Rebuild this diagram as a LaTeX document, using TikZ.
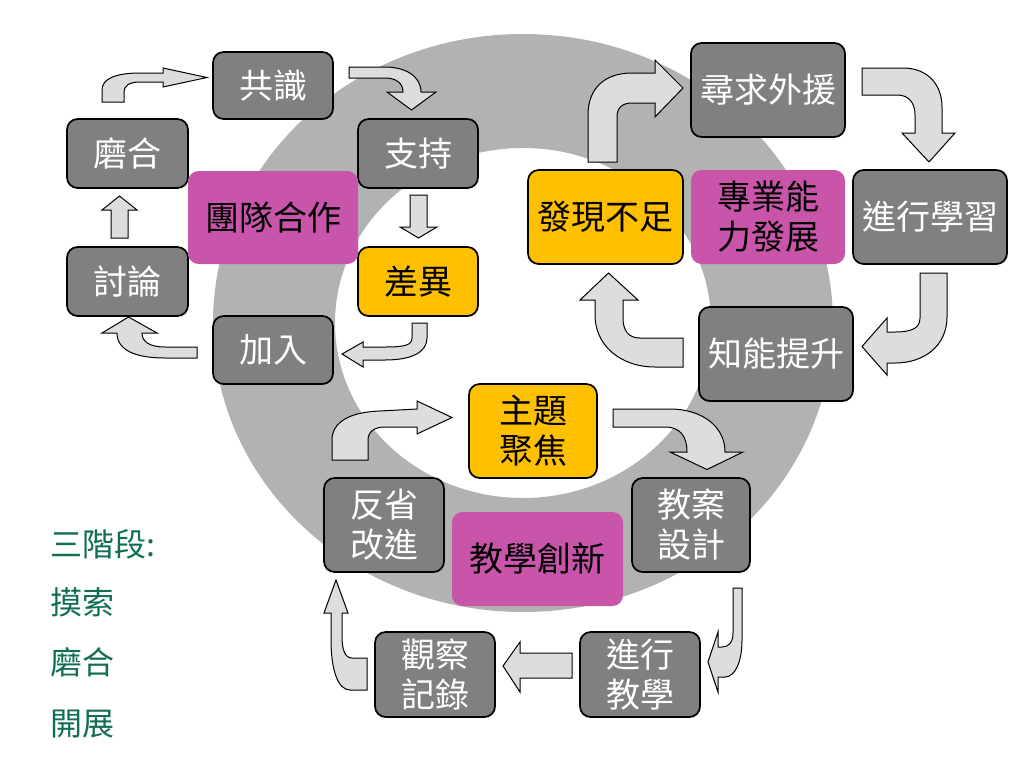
\documentclass[tikz,border=0pt]{standalone}
\usepackage{fontspec}
\newfontfamily\cjk{Noto Sans CJK TC}
\definecolor{boxgray}{RGB}{128,128,128}
\definecolor{ringgray}{RGB}{178,178,178}
\definecolor{arrowgray}{RGB}{221,221,221}
\definecolor{boxorange}{RGB}{255,192,0}
\definecolor{boxmagenta}{RGB}{200,85,170}
\definecolor{stagegreen}{RGB}{16,110,85}

\tikzset{every picture/.style={line width=0.75pt}}
\tikzset{
  sz/.style 2 args={minimum width=#1*0.75pt, minimum height=#2*0.75pt},
  card/.style={rounded corners=8pt, inner sep=0pt, align=center,
    font=\cjk\fontsize{25.5}{30}\selectfont},
  graybox/.style={card, draw=black, line width=1.3pt, fill=boxgray, text=white},
  orangebox/.style={card, draw=black, line width=1.3pt, fill=boxorange, text=black},
  themebox/.style={card, fill=boxmagenta, text=black},
  blockarrow/.style={draw=black, line width=0.75pt, fill=arrowgray, line join=miter},
  stage/.style={anchor=west, inner sep=0pt, text=stagegreen,
    font=\cjk\fontsize{24}{28}\selectfont}
}

\begin{document}
\begin{tikzpicture}[x=0.75pt,y=0.75pt,yscale=-1,xscale=1]
\useasboundingbox (0,0) rectangle (1024,768);

%Shape: Ring
\fill [ringgray, even odd rule] (523,323) ellipse [x radius=310, y radius=289]
  (523,323) ellipse [x radius=188, y radius=175];

%Block Arrows: team cycle
\draw [blockarrow] (102,102) -- (102,90) .. controls (102,79) and (115,73) .. (140,73) -- (163,73) -- (163,68) -- (207,77.5) -- (163,87) -- (163,82) -- (140,82) .. controls (129,82) and (124,86) .. (124,92) -- (124,102) -- cycle;
\draw [blockarrow] (349,67) -- (385,67) .. controls (405,67) and (421,76) .. (421,92) -- (436,92) -- (411.5,110) -- (387,92) -- (403,92) .. controls (403,83) and (396,78) .. (385,78) -- (349,78) -- cycle;
\draw [blockarrow] (410,195) -- (427,195) -- (427,227) -- (437,227) -- (418.5,238) -- (400,227) -- (410,227) -- cycle;
\draw [blockarrow] (412,323) -- (427,323) -- (427,338) .. controls (427,352) and (412,360) .. (385,360) -- (363,360) -- (363,367) -- (342,354) -- (363,342) -- (363,347) -- (385,347) .. controls (405,347) and (412,345) .. (412,338) -- cycle;
\draw [blockarrow] (197,347) -- (165,347) .. controls (150,347) and (142,342) .. (142,333) -- (157,333) -- (128.5,317) -- (102,333) -- (117,333) .. controls (117,350) and (135,358) .. (165,358) -- (197,358) -- cycle;
\draw [blockarrow] (111,238) -- (128,238) -- (128,210) -- (137,210) -- (119.5,196) -- (102,210) -- (111,210) -- cycle;

%Block Arrows: professional cycle
\draw [blockarrow] (588,162) -- (588,115) .. controls (588,88) and (605,73) .. (632,73) -- (655,73) -- (655,60) -- (683,88) -- (655,117) -- (655,103) -- (632,103) .. controls (622,103) and (617,108) .. (617,117) -- (617,162) -- cycle;
\draw [blockarrow] (862,68) -- (903,68) .. controls (928,68) and (942,85) .. (942,107) -- (942,133) -- (955,133) -- (929,162) -- (902,133) -- (915,133) -- (915,115) .. controls (915,103) and (909,95) .. (897,95) -- (862,95) -- cycle;
\draw [blockarrow] (920,273) -- (947,273) -- (947,317) .. controls (947,345) and (925,363) .. (895,363) -- (887,363) -- (887,375) -- (862,346.5) -- (887,318) -- (887,332) -- (895,332) .. controls (912,332) and (920,328) .. (920,318) -- cycle;
\draw [blockarrow] (683,338) -- (640,338) .. controls (628,338) and (623,330) .. (623,318) -- (623,300) -- (638,300) -- (608.5,273) -- (580,300) -- (595,300) -- (595,315) .. controls (595,345) and (620,367) .. (655,367) -- (683,367) -- cycle;

%Block Arrows: teaching cycle
\draw [blockarrow] (332,460) -- (332,440) .. controls (332,422) and (350,412) .. (380,411) -- (417,409) -- (417,401) -- (452,417.5) -- (417,434) -- (417,427) -- (385,427) .. controls (374,427) and (368,432) .. (368,440) -- (368,460) -- cycle;
\draw [blockarrow] (613,409) -- (670,409) .. controls (700,409) and (725,425) .. (725,452) -- (743,452) -- (707,469.5) -- (670,452) -- (687,452) .. controls (687,436) and (680,427) .. (665,427) -- (613,427) -- cycle;
\draw [blockarrow] (733,588) -- (742,588) -- (742,640) .. controls (742,662) and (735,677) .. (725,677) -- (718,677) -- (718,692) -- (708,662) -- (718,632) -- (718,647) -- (722,647) .. controls (729,647) and (733,642) .. (733,633) -- cycle;
\draw [blockarrow] (572,653) -- (520,653) -- (520,642) -- (503,666) -- (520,692) -- (520,678) -- (572,678) -- cycle;
\draw [blockarrow] (367,658) -- (352,658) .. controls (345,658) and (342,650) .. (342,636) -- (342,613) -- (348,613) -- (336,580) -- (324,613) -- (331,613) -- (331,640) .. controls (331,670) and (338,690) .. (350,690) -- (367,690) -- cycle;

% Text Node: team cycle
\node [graybox, sz={120}{67}] (consensus) at (273,85.5) {共識};
\node [graybox, sz={121}{69}] (adjust) at (127.5,153.5) {磨合};
\node [graybox, sz={121}{69}] (discuss) at (127.5,281.5) {討論};
\node [graybox, sz={120}{68}] (join) at (273,350) {加入};
\node [graybox, sz={120}{69}] (support) at (418,153.5) {支持};
\node [orangebox, sz={120}{69}] (difference) at (418,281.5) {差異};
\node [themebox, sz={170}{93}] (teamwork) at (273,217.5) {團隊合作};

% Text Node: professional cycle
\node [graybox, sz={154}{94}] (seekhelp) at (768,90) {尋求外援};
\node [orangebox, sz={155}{94}] (shortfall) at (605.5,217) {發現不足};
\node [themebox, sz={154}{94}] (profdev) at (768,217) {專業能\\力發展};
\node [graybox, sz={154}{94}] (learning) at (930,217) {進行學習};
\node [graybox, sz={154}{94}] (improve) at (776,354) {知能提升};

% Text Node: teaching cycle
\node [orangebox, sz={128}{94}] (focus) at (533,431) {主題\\聚焦};
\node [graybox, sz={120}{94}] (reflect) at (384,525) {反省\\改進};
\node [themebox, sz={171}{94}] (innovation) at (537.5,559) {教學創新};
\node [graybox, sz={118}{94}] (lessonplan) at (691,525) {教案\\設計};
\node [graybox, sz={120}{85}] (observe) at (435,674.5) {觀察\\記錄};
\node [graybox, sz={120}{85}] (teaching) at (640,674.5) {進行\\教學};

% Text Node: stages
\node [stage] (stages) at (50,544) {三階段:};
\node [stage] (explore) at (50,602) {摸索};
\node [stage] (runin) at (50,662) {磨合};
\node [stage] (unfold) at (50,724) {開展};

\end{tikzpicture}
\end{document}
